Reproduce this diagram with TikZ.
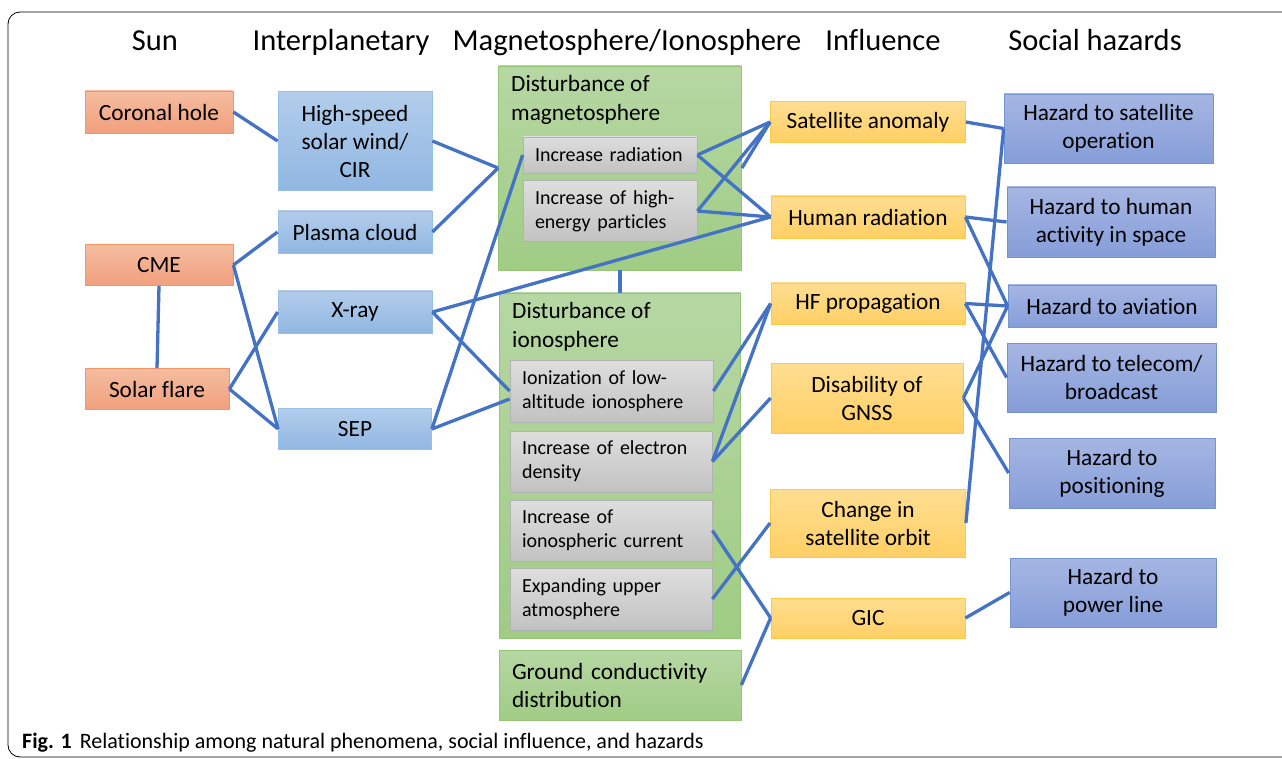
\documentclass[tikz,border=0pt]{standalone}
\usepackage{fontspec}
\setmainfont{Carlito}[Ligatures=NoCommon]
\usepackage{xcolor}
\usepackage{tikz}

\definecolor{linkblue}{RGB}{68,114,196}
\definecolor{suntop}{RGB}{245,188,160}
\definecolor{sunbot}{RGB}{241,160,125}
\definecolor{sunedge}{RGB}{242,150,100}
\definecolor{iptop}{RGB}{178,205,235}
\definecolor{ipbot}{RGB}{145,183,226}
\definecolor{ipedge}{RGB}{150,192,232}
\definecolor{mstop}{RGB}{182,215,163}
\definecolor{msbot}{RGB}{160,204,133}
\definecolor{msedge}{RGB}{148,198,118}
\definecolor{subtop}{RGB}{222,222,222}
\definecolor{subbot}{RGB}{194,194,194}
\definecolor{subedge}{RGB}{178,178,178}
\definecolor{infltop}{RGB}{255,222,145}
\definecolor{inflbot}{RGB}{255,207,100}
\definecolor{infledge}{RGB}{255,200,70}
\definecolor{haztop}{RGB}{166,182,227}
\definecolor{hazbot}{RGB}{133,157,216}
\definecolor{hazedge}{RGB}{118,148,210}

\tikzset{
  box/.style={line width=0.8pt, inner sep=0pt, align=center,
    font=\fontsize{23.3}{28}\selectfont},
  sunbox/.style={box, draw=sunedge, top color=suntop, bottom color=sunbot},
  ipbox/.style={box, draw=ipedge, top color=iptop, bottom color=ipbot},
  msbox/.style={box, draw=msedge, top color=mstop, bottom color=msbot},
  subbox/.style={box, draw=subedge, top color=subtop, bottom color=subbot,
    align=left, inner xsep=12pt, font=\fontsize{20}{24}\selectfont},
  inflbox/.style={box, draw=infledge, top color=infltop, bottom color=inflbot},
  hazbox/.style={box, draw=hazedge, top color=haztop, bottom color=hazbot},
  mslabel/.style={anchor=north west, inner sep=0pt, align=left,
    font=\fontsize{23.3}{29}\selectfont},
  head/.style={anchor=base, font=\fontsize{30.5}{34}\selectfont},
  link/.style={draw=linkblue, line width=3.3pt}
}

\begin{document}
\begin{tikzpicture}[x=1pt, y=-1pt]
  \useasboundingbox (0,0) rectangle (1282,759);
  \clip (0,0) rectangle (1282,759);
  \draw[line width=0.8pt, rounded corners=12pt] (1300,12) -- (8,12) -- (8,757) -- (1300,757);

  % column heads
  \node[head] (hsun) at (155,51) {Sun};
  \node[head] (hip) at (341,51) {Interplanetary};
  \node[head] (hms) at (627,51) {Magnetosphere/Ionosphere};
  \node[head] (hinfl) at (883,51) {Influence};
  \node[head] (hhaz) at (1095,51) {Social hazards};

  % sun
  \node[sunbox, minimum width=148, minimum height=42] (corhole) at (159,112) {Coronal hole};
  \node[sunbox, minimum width=148, minimum height=41] (cme) at (159,265) {CME};
  \node[sunbox, minimum width=144, minimum height=41] (flare) at (157,389) {Solar flare};

  % interplanetary
  \node[ipbox, minimum width=154, minimum height=99] (hswind) at (355,141) {High-speed\\solar wind/\\CIR};
  \node[ipbox, minimum width=154, minimum height=42] (plasma) at (355,232) {Plasma cloud};
  \node[ipbox, minimum width=154, minimum height=42] (xray) at (355,312) {X-ray};
  \node[ipbox, minimum width=153, minimum height=41] (sep) at (355,429) {SEP};

  % magnetosphere / ionosphere
  \node[msbox, minimum width=243, minimum height=204] (magneto) at (620,168) {};
  \node[mslabel] (magnetolbl) at (511,75) {Disturbance of\\magnetosphere};
  \node[subbox, text width=150, minimum height=36] (incrad) at (610,155) {Increase radiation};
  \node[subbox, text width=150, minimum height=61] (hipart) at (610,211) {Increase of high-\\energy particles};

  \node[msbox, minimum width=241, minimum height=345] (iono) at (620,465.5) {};
  \node[mslabel] (ionolbl) at (512,302) {Disturbance of\\ionosphere};
  \node[subbox, text width=179, minimum height=62] (ioniz) at (611.5,391) {Ionization of low-\\altitude ionosphere};
  \node[subbox, text width=178, minimum height=61] (edens) at (611,461.5) {Increase of electron\\density};
  \node[subbox, text width=178, minimum height=61] (icurr) at (611,530.5) {Increase of\\ionospheric current};
  \node[subbox, text width=178, minimum height=62] (expand) at (611,599) {Expanding upper\\atmosphere};

  \node[msbox, align=left, inner xsep=13pt, text width=216, minimum height=70] (ground) at (620,685) {Ground conductivity\\distribution};

  % influence
  \node[inflbox, minimum width=195, minimum height=41] (satanom) at (868,122) {Satellite anomaly};
  \node[inflbox, minimum width=194, minimum height=42] (humrad) at (868,217) {Human radiation};
  \node[inflbox, minimum width=194, minimum height=41] (hfprop) at (868,303.5) {HF propagation};
  \node[inflbox, minimum width=192, minimum height=70] (gnss) at (867,398) {Disability of\\GNSS};
  \node[inflbox, minimum width=195, minimum height=68] (orbit) at (868,523) {Change in\\satellite orbit};
  \node[inflbox, minimum width=194, minimum height=40] (gic) at (868,618) {GIC};

  % social hazards
  \node[hazbox, minimum width=209, minimum height=69] (hazsat) at (1108.5,128.5) {Hazard to satellite\\operation};
  \node[hazbox, minimum width=208, minimum height=70] (hazhuman) at (1111,222) {Hazard to human\\activity in space};
  \node[hazbox, minimum width=208, minimum height=42] (hazavi) at (1112,306) {Hazard to aviation};
  \node[hazbox, minimum width=209, minimum height=69] (haztel) at (1111.5,377.5) {Hazard to telecom/\\broadcast};
  \node[hazbox, minimum width=206, minimum height=70] (hazpos) at (1112,473) {Hazard to\\positioning};
  \node[hazbox, minimum width=206, minimum height=69] (hazpow) at (1113,592.5) {Hazard to\\power line};

  % links
  \foreach \a/\b in {corhole/hswind, cme/plasma, cme/sep, flare/xray, flare/sep,
      hswind/magneto, plasma/magneto, xray/humrad, xray/ioniz, sep/incrad,
      incrad/satanom, incrad/humrad, hipart/satanom, hipart/humrad, magneto/satanom,
      ioniz/hfprop, edens/hfprop, edens/gnss, icurr/gic, expand/orbit, ground/gic,
      satanom/hazsat, orbit/hazsat, humrad/hazhuman, humrad/hazavi,
      hfprop/hazavi, hfprop/haztel, gnss/hazavi, gnss/hazpos, gic/hazpow}
    \draw[link] (\a.east) -- (\b.west);
  \draw[link] (sep.east) -- ([yshift=-8pt]ioniz.west);
  \draw[link] (cme.south) -- (flare.north);
  \draw[link] (magneto.south) -- (iono.north);

  % caption
  \node[anchor=base west, inner sep=0pt, font=\fontsize{22}{24}\selectfont] (caption) at (22,748)
    {\textbf{Fig. 1}\hspace{8pt}Relationship among natural phenomena, social influence, and hazards};
\end{tikzpicture}
\end{document}
